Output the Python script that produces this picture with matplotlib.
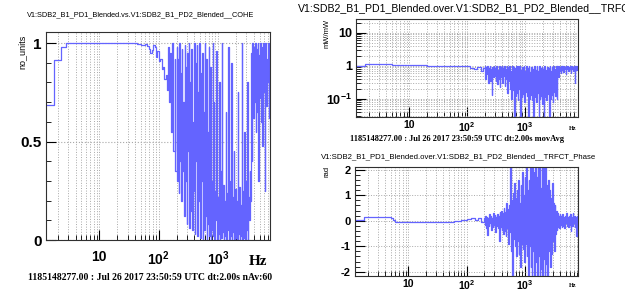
import numpy as np
import matplotlib.pyplot as plt
from matplotlib.ticker import LogLocator, MultipleLocator, NullFormatter

plt.rcParams['font.family'] = ['Liberation Sans', 'DejaVu Sans']
plt.rcParams['mathtext.fontset'] = 'custom'
plt.rcParams['mathtext.rm'] = 'Liberation Sans'
plt.rcParams['mathtext.bf'] = 'Liberation Sans:bold'

# frequency points (Hz) of the noisy high-frequency band, shared by the three traces
f_hi = [200, 205, 210, 216, 222, 228, 234, 240, 246, 252,
        259, 266, 273, 280, 287, 295, 303, 311, 319, 327,
        336, 345, 354, 363, 372, 382, 392, 402, 413, 424,
        435, 446, 458, 470, 482, 495, 508, 521, 535, 549,
        563, 578, 593, 608, 624, 640, 657, 674, 692, 710,
        728, 747, 767, 787, 807, 828, 850, 872, 895, 918,
        942, 967, 992, 1018, 1045, 1072, 1100, 1129, 1158, 1188,
        1219, 1251, 1284, 1317, 1351, 1386, 1422, 1459, 1497, 1536,
        1576, 1617, 1659, 1702, 1746, 1792, 1838, 1886, 1935, 1985,
        2037, 2090, 2144, 2200, 2257, 2316, 2376, 2438, 2501, 2566,
        2633, 2701, 2771, 2843, 2917, 2993, 3071, 3151, 3233, 3317,
        3403, 3491, 3582, 3675, 3770, 3868, 3969, 4072, 4178, 4287,
        4398, 4512, 4629, 4749, 4873, 5000, 5130, 5263, 5400, 5540,
        5684, 5832, 5983, 6139, 6298, 6462, 6630, 6802, 6979, 7160,
        7346, 7537, 7733, 7934, 8140, 8350, 8560, 8780, 9000, 9230]

# coherence
coh_f_lo = [1.25, 1.75, 2.25, 2.75, 5, 10, 20, 30, 43, 50, 58, 64, 68, 72, 76,
            81, 86, 90, 95, 100, 106, 112, 119, 125, 131, 138, 144, 150, 156,
            163, 170, 177, 185, 192]
coh_lo = [0.685, 0.914, 0.98, 1.0, 1.0, 1.0, 1.0, 1.0, 0.995, 0.99, 0.995, 0.985,
          0.97, 0.95, 0.965, 0.99, 0.98, 0.93, 0.96, 0.91, 0.92, 0.87, 0.88, 0.82,
          0.84, 0.76, 0.98, 0.70, 0.95, 0.55, 1.0, 0.45, 0.92, 0.35]
coh_hi = [0.98, 0.30, 0.92, 0.24, 1.00, 0.40, 0.85, 0.20, 0.97, 0.35,
          0.70, 0.12, 0.99, 0.30, 0.88, 0.08, 0.95, 0.45, 1.00, 0.06,
          0.80, 0.15, 0.97, 0.05, 0.60, 0.25, 1.00, 0.03, 0.90, 0.40,
          0.99, 0.02, 0.75, 0.20, 1.00, 0.01, 0.85, 0.30, 0.95, 0.00,
          0.65, 0.05, 1.00, 0.12, 0.92, 0.00, 0.55, 0.08, 0.98, 0.02,
          0.88, 0.00, 0.30, 0.05, 1.00, 0.02, 0.70, 0.00, 0.25, 0.10,
          0.96, 0.00, 0.22, 0.03, 0.80, 0.00, 0.35, 0.01, 1.00, 0.04,
          0.28, 0.00, 0.20, 0.02, 0.65, 0.00, 0.24, 0.05, 0.98, 0.00,
          0.30, 0.02, 0.90, 0.00, 0.22, 0.04, 0.45, 0.00, 0.26, 0.01,
          0.20, 0.00, 0.75, 0.03, 0.27, 0.00, 0.18, 0.02, 1.00, 0.00,
          0.25, 0.01, 0.55, 0.00, 0.30, 0.05, 0.80, 0.00, 0.22, 0.10,
          0.35, 0.20, 0.95, 0.40, 1.00, 0.62, 0.98, 0.70, 1.00, 0.55,
          0.97, 0.65, 1.00, 0.30, 0.94, 0.72, 1.00, 0.60, 0.98, 0.48,
          1.00, 0.75, 0.95, 0.25, 1.00, 0.68, 0.92, 0.80, 1.00, 0.62,
          0.85, 0.55, 1.00, 0.70, 0.90, 0.60, 0.95, 0.75, 1.00, 0.65]

# transfer function magnitude
mag_f_lo = [1.25, 1.75, 2.25, 3, 5, 7, 10, 20, 40, 70, 90, 110, 130, 150, 170, 185]
mag_lo = [0.98, 1.10, 1.10, 1.09, 1.07, 1.05, 1.03, 1.0, 0.99, 0.97, 0.95, 0.88,
          0.80, 0.90, 0.70, 0.85]
mag_hi = [0.95, 0.40, 0.90, 0.55, 0.98, 0.30, 0.85, 0.60, 0.95, 0.35,
          0.80, 0.13, 0.92, 0.45, 0.97, 0.50, 0.88, 0.35, 0.96, 0.28,
          0.75, 0.40, 0.99, 0.22, 0.90, 0.45, 1.00, 0.30, 0.85, 0.50,
          0.97, 0.25, 0.80, 0.40, 1.00, 0.15, 0.90, 0.35, 0.95, 0.20,
          0.70, 0.10, 1.00, 0.18, 0.92, 0.03, 0.85, 0.12, 0.98, 0.15,
          0.60, 0.09, 0.95, 0.20, 1.00, 0.02, 0.75, 0.11, 0.90, 0.14,
          0.98, 0.08, 0.70, 0.16, 0.95, 0.12, 0.85, 0.02, 1.00, 0.10,
          0.65, 0.13, 0.92, 0.09, 0.80, 0.02, 0.97, 0.11, 0.75, 0.08,
          0.95, 0.15, 0.70, 0.02, 1.00, 0.10, 0.85, 0.12, 0.90, 0.07,
          0.80, 0.02, 0.98, 0.11, 0.75, 0.09, 0.92, 0.14, 0.85, 0.02,
          1.00, 0.10, 0.70, 0.13, 0.90, 0.08, 0.95, 0.16, 0.80, 0.12,
          0.98, 0.10, 0.95, 0.45, 1.00, 0.70, 0.92, 0.60, 0.98, 0.75,
          0.95, 0.65, 1.00, 0.80, 0.92, 0.55, 0.98, 0.78, 1.00, 0.70,
          0.93, 0.82, 1.00, 0.60, 0.96, 0.78, 0.90, 0.70, 1.00, 0.30,
          0.95, 0.72, 0.98, 0.80, 0.93, 0.65, 1.00, 0.75, 0.95, 0.80]

# transfer function phase
ph_f_lo = [1.25, 1.75, 2.5, 3.5, 4.5, 5.0, 5.5, 6, 8, 10, 20, 40, 60, 80, 100,
           120, 140, 160, 180]
ph_lo = [0.04, 0.15, 0.16, 0.15, 0.14, 0.10, 0.03, -0.04, -0.05, -0.05, -0.04,
         -0.03, 0.0, 0.03, 0.06, 0.10, 0.05, 0.12, -0.05]
ph_hi = [0.10, -0.15, 0.20, -0.30, 0.15, -0.55, 0.12, -0.20, 0.25, -0.10,
         0.18, -0.35, 0.10, -0.25, 0.30, -0.15, 0.22, -0.45, 0.15, -0.20,
         0.28, -0.30, 0.20, -0.80, 0.35, -0.25, 0.40, -0.35, 0.30, -0.50,
         0.50, -0.40, 0.35, -0.60, 0.70, -0.30, 0.45, -0.90, 0.60, -0.45,
         2.20, -1.20, 0.80, -2.20, 1.10, -0.70, 1.50, -1.00, 0.90, -1.40,
         1.20, -0.80, 1.60, -1.30, 0.70, -1.80, 1.40, -0.90, 1.90, -1.10,
         1.00, -1.60, 1.70, -0.90, 2.20, -1.40, 1.20, -2.20, 1.60, -1.00,
         2.20, -1.80, 1.40, -2.20, 2.20, -1.20, 1.90, -2.20, 2.20, -1.60,
         1.70, -2.20, 2.20, -1.40, 2.20, -2.20, 1.30, -1.90, 2.20, -2.20,
         2.20, -1.50, 1.80, -2.20, 2.20, -1.70, 1.40, -2.20, 1.60, -1.20,
         1.20, -1.80, 0.90, -1.30, 1.50, -0.80, 0.70, -1.20, 0.60, -0.50,
         0.40, -0.35, 0.30, -0.25, 0.20, -0.30, 0.25, -0.15, 0.20, -0.25,
         0.25, -0.20, 0.15, -0.30, 0.20, -0.10, 0.30, -0.20, 0.15, -0.25,
         0.20, -0.15, 0.25, -0.40, 0.15, -0.20, 0.30, -0.10, 0.20, -0.25,
         0.15, -0.60, 0.20, -0.15, 0.25, -0.30, 0.10, -0.20, 0.20, -0.15]

footer = '1185148277.00 : Jul 26 2017 23:50:59 UTC dt:2.00s '
line_col = '#6464ff'
grid_col = '#a8a8a8'


def style_freq_axis(ax, fs, xpad):
    ax.set_xscale('log')
    ax.xaxis.set_major_locator(LogLocator(base=10))
    ax.xaxis.set_minor_locator(LogLocator(base=10, subs=range(2, 10)))
    ax.xaxis.set_minor_formatter(NullFormatter())
    ax.set_xticks([10, 100, 1000],
                  labels=['10', r'$\mathbf{10^{2}}$', r'$\mathbf{10^{3}}$'])
    ax.tick_params(axis='both', which='both', direction='in', top=False, right=False)
    ax.tick_params(which='major', length=7, width=0.8)
    ax.tick_params(which='minor', length=3.5, width=0.6)
    ax.tick_params(axis='x', labelsize=fs, pad=xpad)
    for lab in ax.get_xticklabels() + ax.get_yticklabels():
        lab.set_fontweight('bold')
    ax.grid(True, axis='x', which='both', color=grid_col, linestyle=':', linewidth=0.7)
    for s in ax.spines.values():
        s.set_linewidth(0.8)
        s.set_color('#303030')


fig = plt.figure(figsize=(6.25, 2.91), dpi=100)

# left: coherence
ax1 = fig.add_axes([0.073, 0.175, 0.359, 0.715])
ax1.plot(coh_f_lo + f_hi, coh_lo + coh_hi, color=line_col, lw=0.9, drawstyle='steps-post')
ax1.set_xlim(1.25, 7500)
ax1.set_ylim(0, 1.056)
ax1.set_yticks([0, 0.5, 1], labels=['0', '0.5', '1'])
ax1.yaxis.set_minor_locator(MultipleLocator(0.1))
ax1.tick_params(axis='y', labelsize=11, pad=3)
style_freq_axis(ax1, 10, 7)
ax1.grid(True, axis='y', which='major', color=grid_col, linestyle=':', linewidth=0.8)
fig.text(0.035, 0.88, 'no_units', rotation=90, ha='center', va='top', fontsize=6.5)
fig.text(0.225, 0.948, 'V1:SDB2_B1_PD1_Blended.vs.V1:SDB2_B1_PD2_Blended__COHE',
         ha='center', va='center', fontsize=5.3)
fig.text(0.413, 0.1, 'Hz', ha='center', va='center', fontsize=11,
         family='Liberation Serif', fontweight='bold')
fig.text(0.24, 0.045, footer + 'nAv:60', ha='center', va='center', fontsize=7,
         family='Liberation Serif', fontweight='bold')

# right top: magnitude
ax2 = fig.add_axes([0.570, 0.598, 0.355, 0.337])
ax2.plot(mag_f_lo + f_hi, mag_lo + mag_hi, color=line_col, lw=0.9, drawstyle='steps-post')
ax2.set_xlim(1.22, 8200)
ax2.set_yscale('log')
ax2.set_ylim(0.028, 26)
ax2.set_yticks([0.1, 1, 10], labels=[r'$\mathbf{10^{-1}}$', '1', '10'])
ax2.yaxis.set_minor_locator(LogLocator(base=10, subs=range(2, 10)))
ax2.yaxis.set_minor_formatter(NullFormatter())
ax2.tick_params(axis='y', labelsize=9, pad=3)
style_freq_axis(ax2, 7.5, 2)
ax2.grid(True, axis='y', which='both', color=grid_col, linestyle=':', linewidth=0.7)
fig.text(0.523, 0.935, 'mW/mW', rotation=90, ha='center', va='top', fontsize=5.5)
fig.text(0.476, 0.97, 'V1:SDB2_B1_PD1_Blended.over.V1:SDB2_B1_PD2_Blended__TRFCT_Magnitude',
         ha='left', va='center', fontsize=7.6)
fig.text(0.916, 0.56, 'Hz', ha='center', va='center', fontsize=4.5,
         family='Liberation Serif', fontweight='bold')
fig.text(0.732, 0.522, footer + 'movAvg', ha='center', va='center', fontsize=6,
         family='Liberation Serif', fontweight='bold')

# right bottom: phase
ax3 = fig.add_axes([0.568, 0.052, 0.357, 0.375])
ax3.plot(ph_f_lo + f_hi, ph_lo + ph_hi, color=line_col, lw=0.9, drawstyle='steps-post')
ax3.set_xlim(1.22, 8200)
ax3.set_ylim(-2.16, 2.12)
ax3.set_yticks([-2, -1, 0, 1, 2], labels=['-2', '-1', '0', '1', '2'])
ax3.yaxis.set_minor_locator(MultipleLocator(0.2))
ax3.tick_params(axis='y', labelsize=8, pad=3)
style_freq_axis(ax3, 7.5, 2)
ax3.grid(True, axis='y', which='major', color=grid_col, linestyle=':', linewidth=0.7)
fig.text(0.523, 0.43, 'rad', rotation=90, ha='center', va='top', fontsize=5.5)
fig.text(0.733, 0.463, 'V1:SDB2_B1_PD1_Blended.over.V1:SDB2_B1_PD2_Blended__TRFCT_Phase',
         ha='center', va='center', fontsize=5.6)
fig.text(0.916, 0.018, 'Hz', ha='center', va='center', fontsize=4.5,
         family='Liberation Serif', fontweight='bold')

fig.savefig('out.png', dpi=100)
